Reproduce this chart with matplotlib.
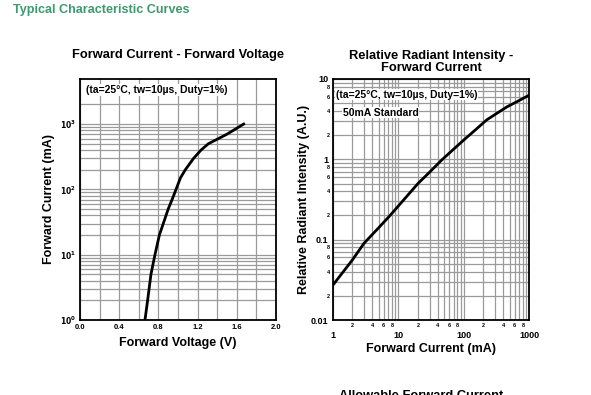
import matplotlib
matplotlib.use("Agg")
import matplotlib.pyplot as plt

plt.rcParams['font.family'] = ['Liberation Sans', 'DejaVu Sans']
plt.rcParams['font.weight'] = 'bold'

# Forward current vs forward voltage
vf = [0.663, 0.69, 0.724, 0.765, 0.81, 0.85, 0.90, 0.94, 0.98, 1.025, 1.075,
      1.16, 1.235, 1.31, 1.50, 1.67]
i_f = [1, 2, 5, 10, 20, 30, 50, 70, 100, 150, 200, 300, 400, 500, 700, 1000]

# Relative radiant intensity vs forward current
cur = [1, 2, 3, 5, 7.5, 12, 20, 30, 46, 100, 150, 224, 456, 700, 1000]
rel = [0.027, 0.056, 0.09, 0.14, 0.20, 0.31, 0.50, 0.69, 0.98, 1.74, 2.32, 3.1,
       4.5, 5.4, 6.3]

vf_ticks = [0.0, 0.4, 0.8, 1.2, 1.6, 2.0]
note = "(ta=25°C, tw=10µs, Duty=1%)"

GRID = '#9a9a9a'

fig = plt.figure(figsize=(5.91, 3.95), dpi=100)

fig.text(13 / 591, 1 - 10 / 395, "Typical Characteristic Curves", color='#3d9a6e',
         fontsize=9.1, fontweight='bold', va='center', ha='left')

# ---- left chart
ax1 = fig.add_axes([80 / 591, 1 - 320 / 395, 196 / 591, 241 / 395])
ax1.plot(vf, i_f, color='black', lw=2, zorder=3, solid_joinstyle='round')
ax1.set_yscale('log')
ax1.set_xlim(0, 2.0)
ax1.set_ylim(1, 4900)
ax1.set_xticks(vf_ticks)
ax1.set_xticklabels(["%.1f" % v for v in vf_ticks])
ax1.set_xticks([0.2 * k for k in range(11)], minor=True)
ax1.set_yticks([1, 10, 100, 1000])
ax1.set_yticklabels([r'$\mathbf{10^{%d}}$' % k for k in range(4)])
minor_y = [m * 10 ** d for d in range(3) for m in range(2, 10)] + [2000]
ax1.set_yticks(minor_y, minor=True)
ax1.yaxis.set_minor_formatter(plt.NullFormatter())
ax1.grid(True, which='both', color=GRID, lw=0.9)
ax1.tick_params(which='both', length=0, labelsize=5.5, pad=3)
ax1.set_xlabel("Forward Voltage (V)", fontsize=9, fontweight='bold', labelpad=4)
ax1.set_ylabel("Forward Current (mA)", fontsize=9, fontweight='bold', labelpad=3)
ax1.set_title("Forward Current - Forward Voltage", fontsize=9.3, fontweight='bold', pad=15)
ax1.text(0.03, 0.955, note, transform=ax1.transAxes, fontsize=7.5, fontweight='bold',
         va='center', ha='left', zorder=4,
         bbox=dict(facecolor='white', edgecolor='none', pad=0.5))
for s in ax1.spines.values():
    s.set_linewidth(1.3)

# ---- right chart
ax2 = fig.add_axes([332.7 / 591, 1 - 320 / 395, 196.6 / 591, 241 / 395])
ax2.plot(cur, rel, color='black', lw=2, zorder=3, solid_joinstyle='round')
ax2.set_xscale('log')
ax2.set_yscale('log')
ax2.set_xlim(1, 1000)
ax2.set_ylim(0.01, 10)
ax2.set_xticks([1, 10, 100, 1000])
ax2.set_xticklabels(["1", "10", "100", "1000"])
ax2.set_yticks([0.01, 0.1, 1, 10])
ax2.set_yticklabels(["0.01", "0.1", "1", "10"])
xminor = [m * 10 ** d for d in range(3) for m in range(2, 10)]
ax2.set_xticks(xminor, minor=True)
ax2.set_xticklabels([str(m) if m in (2, 4, 6, 8) else "" for d in range(3) for m in range(2, 10)],
                    minor=True)
yminor = [m * 10.0 ** d for d in (-2, -1, 0) for m in range(2, 10)]
ax2.set_yticks(yminor, minor=True)
ax2.set_yticklabels([str(m) if m in (2, 4, 6, 8) else "" for d in (-2, -1, 0) for m in range(2, 10)],
                    minor=True)
ax2.grid(True, which='both', color=GRID, lw=0.9)
ax2.tick_params(which='major', length=0, labelsize=6.5, pad=3)
ax2.tick_params(which='minor', length=0, labelsize=4, pad=2)
ax2.tick_params(axis='x', which='major', pad=8)
ax2.set_xlabel("Forward Current (mA)", fontsize=9, fontweight='bold', labelpad=2)
ax2.set_ylabel("Relative Radiant Intensity (A.U.)", fontsize=9, fontweight='bold', labelpad=1)
ax2.set_title("Relative Radiant Intensity -\nForward Current", fontsize=9.3,
              fontweight='bold', pad=6, linespacing=1.0)
ax2.text(0.015, 0.935, note, transform=ax2.transAxes, fontsize=7.5, fontweight='bold',
         va='center', ha='left', zorder=4,
         bbox=dict(facecolor='white', edgecolor='none', pad=0.5))
ax2.text(0.05, 0.86, "50mA Standard", transform=ax2.transAxes, fontsize=7.5, fontweight='bold',
         va='center', ha='left', zorder=4,
         bbox=dict(facecolor='white', edgecolor='none', pad=0.5))
for s in ax2.spines.values():
    s.set_linewidth(1.3)

fig.text(421 / 591, 1 - 390 / 395, "Allowable Forward Current", fontsize=9.3,
         fontweight='bold', ha='center', va='top')

fig.savefig("out.png", dpi=100)
